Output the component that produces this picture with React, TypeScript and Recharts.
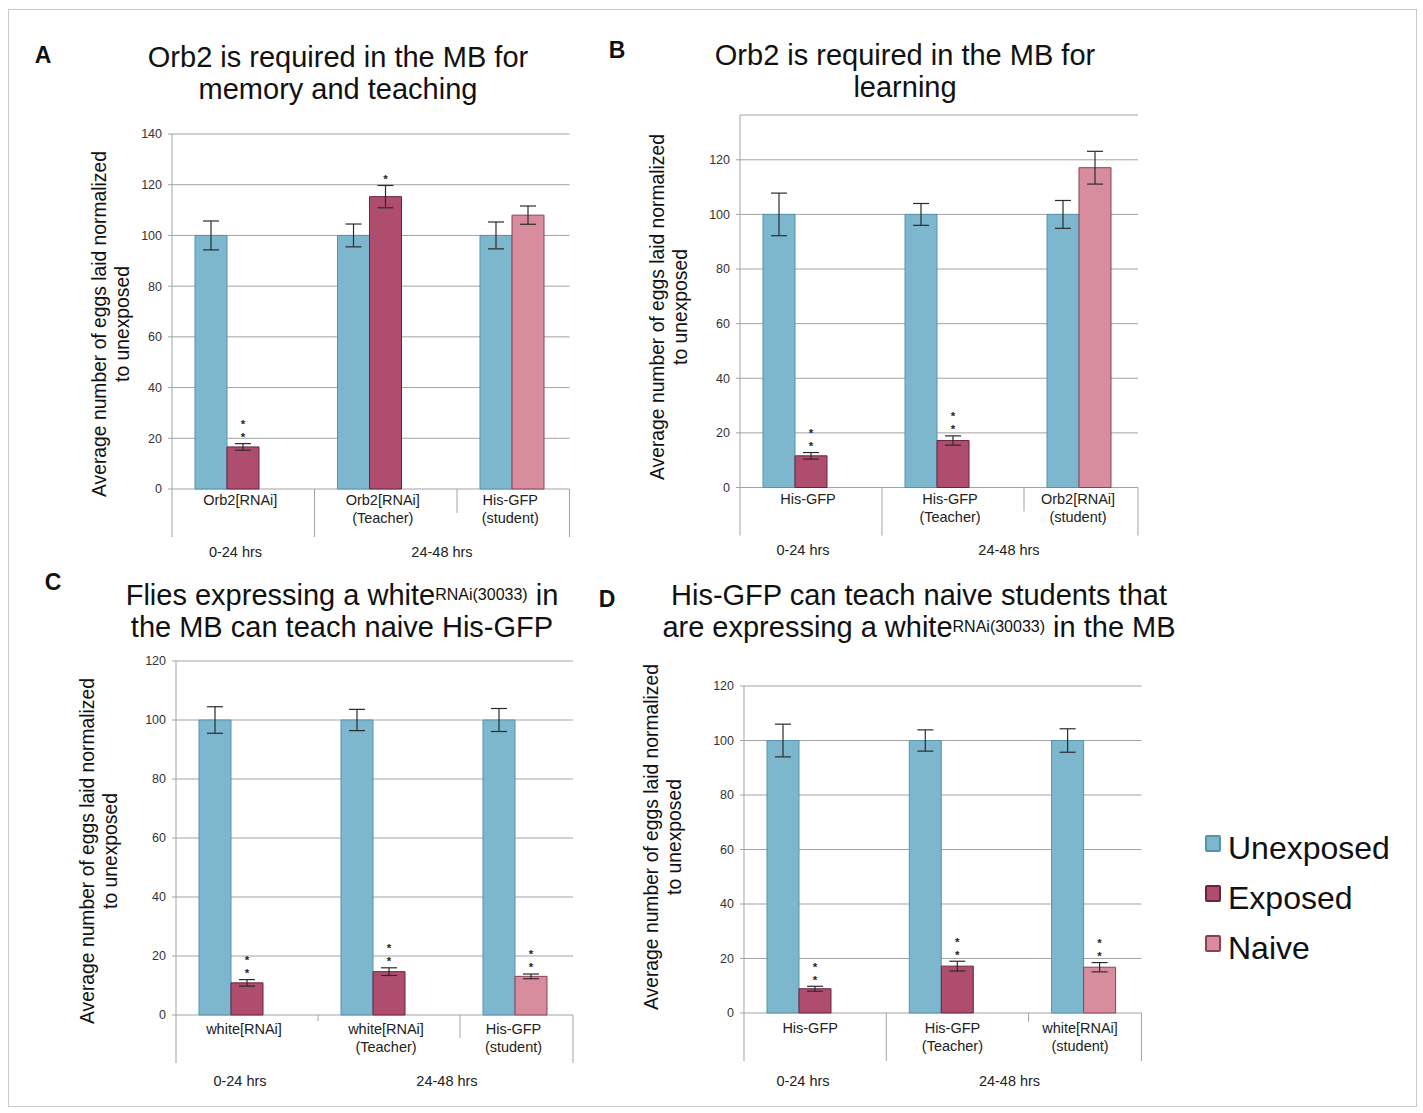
import React from 'react';
import { BarChart, Bar, XAxis, YAxis, CartesianGrid, ErrorBar, Cell, LabelList } from 'recharts';

const FONT = '"Liberation Sans", Arial, Helvetica, sans-serif';
const GRID = '#a3a3a3';

// ---- data ----
const timeLabels = ['0-24 hrs', '24-48 hrs'];
const legendItems = ['Unexposed', 'Exposed', 'Naive'];
const ticks140 = [0, 20, 40, 60, 80, 100, 120, 140];
const ticks120 = [0, 20, 40, 60, 80, 100, 120];

// A
const groupsA = [['Orb2[RNAi]'], ['Orb2[RNAi]', '(Teacher)'], ['His-GFP', '(student)']];
const unexposedA = [100, 100, 100];
const unexposedErrA = [5.7, 4.5, 5.3];
const treatedA = [16.6, 115.3, 108];
const treatedErrA = [1.3, 4.4, 3.6];
const kindA = ['Exposed', 'Exposed', 'Naive'];
const starsA = [2, 1, 0];

// B
const groupsB = [['His-GFP'], ['His-GFP', '(Teacher)'], ['Orb2[RNAi]', '(student)']];
const unexposedB = [100, 100, 100];
const unexposedErrB = [7.8, 4, 5.1];
const treatedB = [11.6, 17.2, 117.1];
const treatedErrB = [1.2, 1.7, 6];
const kindB = ['Exposed', 'Exposed', 'Naive'];
const starsB = [2, 2, 0];

// C
const groupsC = [['white[RNAi]'], ['white[RNAi]', '(Teacher)'], ['His-GFP', '(student)']];
const unexposedC = [100, 100, 100];
const unexposedErrC = [4.5, 3.6, 3.9];
const treatedC = [10.9, 14.7, 13.1];
const treatedErrC = [1.1, 1.3, 0.8];
const kindC = ['Exposed', 'Exposed', 'Naive'];
const starsC = [2, 2, 2];

// D
const groupsD = [['His-GFP'], ['His-GFP', '(Teacher)'], ['white[RNAi]', '(student)']];
const unexposedD = [100, 100, 100];
const unexposedErrD = [6, 3.9, 4.3];
const treatedD = [8.9, 17.2, 16.8];
const treatedErrD = [0.9, 1.8, 1.7];
const kindD = ['Exposed', 'Exposed', 'Naive'];
const starsD = [2, 2, 2];

const COLORS: Record<string, { fill: string; stroke: string }> = {
  Unexposed: { fill: '#7db7ce', stroke: '#5693ab' },
  Exposed: { fill: '#ae4d6d', stroke: '#6b2341' },
  Naive: { fill: '#d88d9f', stroke: '#8b4058' },
};

// layout of each panel (page pixels)
const layoutA = { left: 172, top: 134, zero: 489, yMax: 140, band: 142.5, visible: 397.5, seps: [48, 48, 24, 48], lab: 11, time: 63, time0: 63.5, time1: 270, labShift: -3 };
const layoutB = { left: 740, top: 115, zero: 487.5, yMax: 136.4, band: 142, visible: 398, seps: [48, 48, 24, 48], lab: 11, time: 62, time0: 63, time1: 269, labShift: -3 };
const layoutC = { left: 176, top: 661, zero: 1015, yMax: 120, band: 142, visible: 397, seps: [48, 6, 23, 48], lab: 14, time: 66, time0: 64, time1: 271, labShift: -3 };
const layoutD = { left: 743.5, top: 686, zero: 1013, yMax: 120, band: 142.3, visible: 397.5, seps: [48, 48, 9, 48], lab: 15, time: 68, time0: 59, time1: 265.5, labShift: -5 };

const PADL = 70;
const PADT = 20;
const PADR = 10;
const AXH = 90;

function Panel({ lay, groups, unexposed, unexposedErr, treated, treatedErr, kind, stars, ticks }: any) {
  const plotH = lay.zero - lay.top;
  const plotW = lay.band * 3;
  const width = PADL + plotW + PADR;
  const height = PADT + plotH + AXH;
  const axisY = PADT + plotH;
  const pxPerUnit = plotH / lay.yMax;
  const data = groups.map((g: string[], i: number) => ({
    name: g.join(' '),
    unexposed: unexposed[i],
    unexposedErr: unexposedErr[i],
    treated: treated[i],
    treatedErr: treatedErr[i],
    stars: stars[i],
    spacer: null,
  }));

  const renderTick = (props: any) => {
    const i = props.index ?? props.payload?.index ?? 0;
    const x0 = PADL + i * lay.band;
    const x1 = i === 2 ? PADL + lay.visible : PADL + (i + 1) * lay.band;
    const cx = (x0 + x1) / 2 + lay.labShift;
    return (
      <g>
        <line x1={x0} y1={axisY} x2={x0} y2={axisY + lay.seps[i]} stroke={GRID} />
        {i === 2 && <line x1={x1} y1={axisY} x2={x1} y2={axisY + lay.seps[3]} stroke={GRID} />}
        <text x={cx} textAnchor="middle" fontSize={14.5} fill="#222">
          {groups[i].map((t: string, k: number) => (
            <tspan key={k} x={cx} y={axisY + lay.lab + k * 18} dy="0.35em">
              {t}
            </tspan>
          ))}
        </text>
        {i < 2 && (
          <text x={PADL + (i === 0 ? lay.time0 : lay.time1)} y={axisY + lay.time} dy="0.35em" textAnchor="middle" fontSize={14.5} fill="#222">
            {timeLabels[i]}
          </text>
        )}
      </g>
    );
  };

  // significance stars stacked above the error bar
  const renderStars = (p: any) => {
    const n = Number(p.value) || 0;
    if (!n) return null;
    const errTop = Number(p.y) - treatedErr[p.index] * pxPerUnit;
    const cx = Number(p.x) + Number(p.width) / 2;
    const out = [];
    for (let k = 0; k < n; k++) {
      const cy = errTop - 9 - k * 13;
      out.push(
        <text key={k} x={cx} y={cy + 6.5} textAnchor="middle" fontSize={11.5} fontWeight="bold" fill="#222">
          *
        </text>
      );
    }
    return <g>{out}</g>;
  };

  return (
    <div style={{ position: 'absolute', left: lay.left - PADL, top: lay.top - PADT }}>
      <BarChart width={width} height={height} data={data} margin={{ top: PADT, right: PADR, bottom: 0, left: 0 }} barGap={0} barSize={32}>
        <CartesianGrid vertical={false} stroke={GRID} width={lay.visible} />
        <XAxis dataKey="name" height={AXH} axisLine={false} tickLine={false} interval={0} tick={renderTick} />
        <YAxis
          width={PADL}
          domain={[0, lay.yMax]}
          ticks={ticks}
          interval={0}
          axisLine={{ stroke: GRID }}
          tickLine={{ stroke: GRID }}
          tickSize={4}
          tickMargin={6}
          tick={{ fontSize: 12.5, fill: '#333' }}
        />
        <Bar dataKey="unexposed" fill={COLORS.Unexposed.fill} stroke={COLORS.Unexposed.stroke} isAnimationActive={false}>
          <ErrorBar dataKey="unexposedErr" width={8} stroke="#2b2b2b" strokeWidth={1.2} direction="y" />
        </Bar>
        <Bar dataKey="treated" isAnimationActive={false}>
          {data.map((_: any, i: number) => (
            <Cell key={i} fill={COLORS[kind[i]].fill} stroke={COLORS[kind[i]].stroke} />
          ))}
          <ErrorBar dataKey="treatedErr" width={8} stroke="#2b2b2b" strokeWidth={1.2} direction="y" />
          <LabelList dataKey="stars" content={renderStars} />
        </Bar>
        <Bar dataKey="spacer" isAnimationActive={false} />
      </BarChart>
    </div>
  );
}

function YTitle({ cx, cy }: { cx: number; cy: number }) {
  const W = 440;
  const H = 46;
  return (
    <div
      style={{
        position: 'absolute',
        left: cx - W / 2,
        top: cy - H / 2,
        width: W,
        height: H,
        textAlign: 'center',
        fontSize: 19.3,
        lineHeight: '23px',
        color: '#111',
        transform: 'rotate(-90deg)',
      }}
    >
      Average number of eggs laid normalized
      <br />
      to unexposed
    </div>
  );
}

function Title({ cx, top, children }: any) {
  return (
    <div style={{ position: 'absolute', left: cx - 320, top, width: 640, textAlign: 'center', fontSize: 29, lineHeight: '32px', color: '#111' }}>
      {children}
    </div>
  );
}

function Letter({ x, y, t }: { x: number; y: number; t: string }) {
  return (
    <div style={{ position: 'absolute', left: x, top: y, transform: 'translate(-50%, -50%)', fontSize: 23, lineHeight: '23px', fontWeight: 'bold', color: '#111' }}>
      {t}
    </div>
  );
}

const supStyle: React.CSSProperties = { fontSize: 16, position: 'relative', top: -5, verticalAlign: 'baseline', lineHeight: 0 };

export default function App() {
  return (
    <div style={{ position: 'absolute', left: 0, top: 0, width: 1423, height: 1113, background: '#fff', fontFamily: FONT, overflow: 'hidden' }}>
      <div style={{ position: 'absolute', left: 8, top: 9, width: 1409, height: 1098, border: '1.5px solid #c9c9c9', boxSizing: 'border-box' }} />

      <Letter x={43} y={55} t="A" />
      <Letter x={617} y={50} t="B" />
      <Letter x={53} y={582} t="C" />
      <Letter x={607} y={599} t="D" />

      <Title cx={338} top={41}>
        Orb2 is required in the MB for
        <br />
        memory and teaching
      </Title>
      <Title cx={905} top={39}>
        Orb2 is required in the MB for
        <br />
        learning
      </Title>
      <Title cx={342} top={579}>
        Flies expressing a white<span style={supStyle}>RNAi(30033)</span> in
        <br />
        the MB can teach naive His-GFP
      </Title>
      <Title cx={919} top={579}>
        His-GFP can teach naive students that
        <br />
        are expressing a white<span style={supStyle}>RNAi(30033)</span> in the MB
      </Title>

      <YTitle cx={111} cy={324} />
      <YTitle cx={669} cy={307} />
      <YTitle cx={99} cy={851} />
      <YTitle cx={663} cy={837} />

      <Panel lay={layoutA} groups={groupsA} unexposed={unexposedA} unexposedErr={unexposedErrA} treated={treatedA} treatedErr={treatedErrA} kind={kindA} stars={starsA} ticks={ticks140} />
      <Panel lay={layoutB} groups={groupsB} unexposed={unexposedB} unexposedErr={unexposedErrB} treated={treatedB} treatedErr={treatedErrB} kind={kindB} stars={starsB} ticks={ticks120} />
      <Panel lay={layoutC} groups={groupsC} unexposed={unexposedC} unexposedErr={unexposedErrC} treated={treatedC} treatedErr={treatedErrC} kind={kindC} stars={starsC} ticks={ticks120} />
      <Panel lay={layoutD} groups={groupsD} unexposed={unexposedD} unexposedErr={unexposedErrD} treated={treatedD} treatedErr={treatedErrD} kind={kindD} stars={starsD} ticks={ticks120} />

      <div style={{ position: 'absolute', left: 1205, top: 823 }}>
        {legendItems.map((name) => (
          <div key={name} style={{ position: 'relative', height: 50, paddingLeft: 23, fontSize: 32, lineHeight: '50px', color: '#111', whiteSpace: 'nowrap' }}>
            <div
              style={{
                position: 'absolute',
                left: 0,
                top: 12,
                width: 16,
                height: 17,
                boxSizing: 'border-box',
                background: COLORS[name].fill,
                border: `2px solid ${COLORS[name].stroke}`,
                borderRadius: 2,
              }}
            />
            {name}
          </div>
        ))}
      </div>
    </div>
  );
}
